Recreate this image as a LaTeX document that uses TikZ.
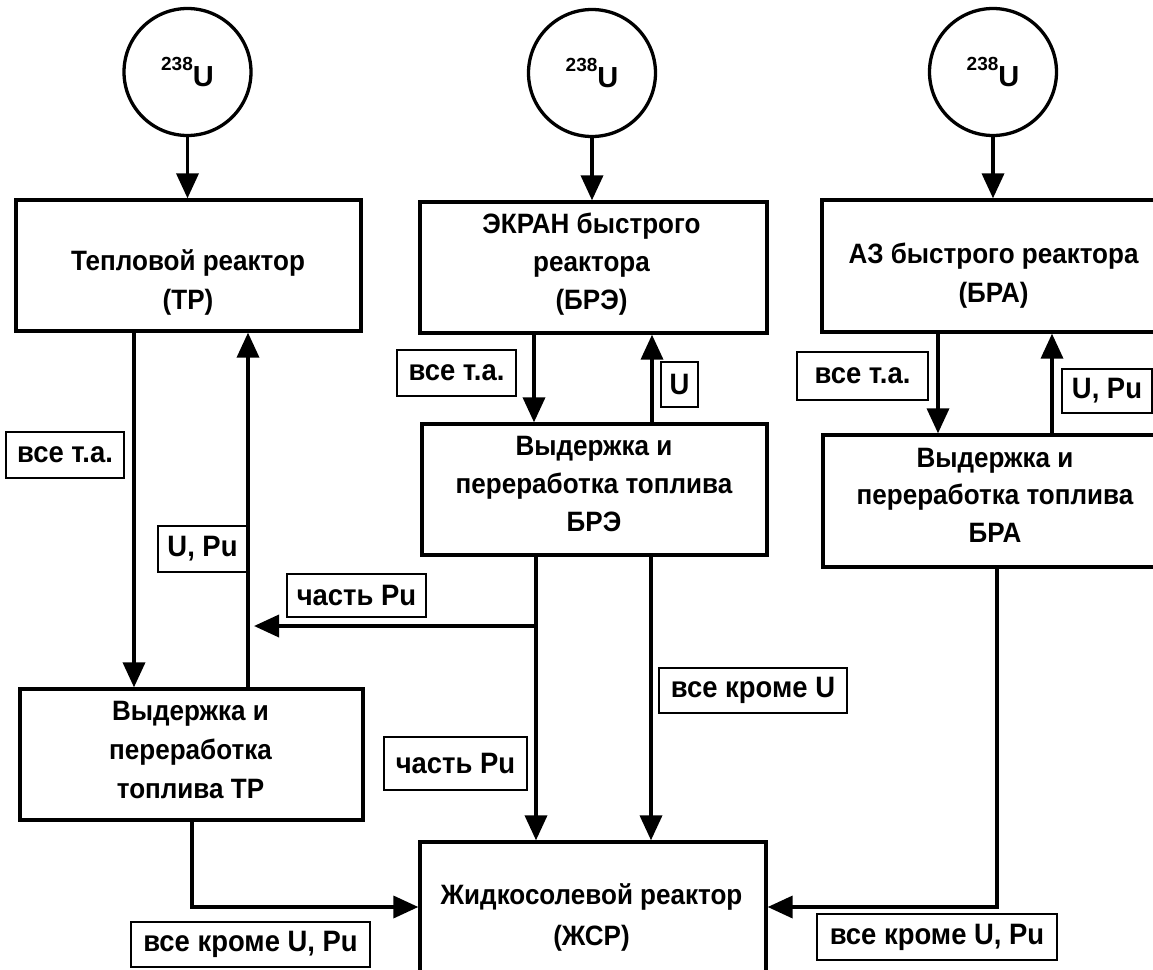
\documentclass[tikz,border=0pt]{standalone}
\usepackage{fontspec}
\setmainfont{Liberation Sans}
\newfontfamily\narrowf{Liberation Sans}[FakeStretch=0.93]
\usetikzlibrary{arrows.meta}
\newcommand{\mlines}[2]{{\narrowf\fontsize{28}{#1}\selectfont\bfseries\begin{tabular}[t]{@{}c@{}}#2\end{tabular}}}
\newcommand{\uiso}{\raisebox{16pt}{\fontsize{19}{20}\selectfont\bfseries 238}{\fontsize{29}{30}\selectfont\bfseries U}}
\begin{document}
\begin{tikzpicture}[x=1pt,y=-1pt,
  box/.style={draw, line width=3.3pt, inner sep=0pt},
  circ/.style={draw, circle, line width=3.3pt, minimum size=127pt, inner sep=0pt},
  lbl/.style={draw, line width=1.2pt, inner sep=0pt, font=\narrowf\fontsize{29.5}{30}\selectfont\bfseries},
  arr/.style={line width=3.6pt, -{Triangle[length=25pt,width=22pt]}},
  txt/.style={anchor=base, inner sep=0pt}]
\useasboundingbox (0,0) rectangle (1153,969);
% circles
\node[circ] (c1) at (187.5,72) {\uiso};
\node[circ] (c2) at (592,73) {\uiso};
\node[circ] (c3) at (993,72) {\uiso};
% boxes
\node[box, minimum width=345pt, minimum height=131pt] (tp) at (188.5,265.5) {};
\node[box, minimum width=347pt, minimum height=131pt] (bre) at (593.5,267.5) {};
\node[box, minimum width=343pt, minimum height=132pt] (bra) at (993.5,266) {};
\node[box, minimum width=345pt, minimum height=131pt] (bre2) at (594.5,489.5) {};
\node[box, minimum width=343pt, minimum height=132pt] (bra2) at (994.5,501) {};
\node[box, minimum width=343pt, minimum height=131pt] (tp2) at (191.5,754.5) {};
\node[box, minimum width=346pt, minimum height=150pt] (msr) at (593,917) {};
% box texts
\node[txt] (tpT) at (188,270) {\mlines{39}{Тепловой реактор\\(ТР)}};
\node[txt] (breT) at (591.5,233) {\mlines{38}{ЭКРАН быстрого\\реактора\\(БРЭ)}};
\node[txt] (braT) at (993.5,263) {\mlines{39}{АЗ быстрого реактора\\(БРА)}};
\node[txt] (bre2T) at (594,455) {\mlines{38}{Выдержка и\\переработка топлива\\БРЭ}};
\node[txt] (bra2T) at (995,467) {\mlines{37.5}{Выдержка и\\переработка топлива\\БРА}};
\node[txt] (tp2T) at (190.5,720) {\mlines{39}{Выдержка и\\переработка\\топлива ТР}};
\node[txt] (msrT) at (591.5,904) {\mlines{41}{Жидкосолевой реактор\\(ЖСР)}};
% connectors
\draw[arr] (c1.south) -- (c1.south |- tp.north);
\draw[arr] (c2.south) -- (c2.south |- bre.north);
\draw[arr] (c3.south) -- (c3.south |- bra.north);
\draw[arr] (tp.south -| 134,0) -- (tp2.north -| 134,0);
\draw[arr] (tp2.north -| 248,0) -- (tp.south -| 248,0);
\draw[arr] (bre.south -| 534,0) -- (bre2.north -| 534,0);
\draw[arr] (bre2.north -| 652,0) -- (bre.south -| 652,0);
\draw[arr] (bra.south -| 938,0) -- (bra2.north -| 938,0);
\draw[arr] (bra2.north -| 1052,0) -- (bra.south -| 1052,0);
\draw[arr] (bre2.south -| 536,0) -- (msr.north -| 536,0);
\coordinate (br) at (536,626);
\coordinate (pu) at (254,626);
\draw[arr] (br) -- (pu);
\draw[arr] (bre2.south -| 651,0) -- (msr.north -| 651,0);
\draw[arr] (tp2.south -| 192,0) |- (msr.west |- 0,907);
\draw[arr] (bra2.south -| 997,0) |- (msr.east |- 0,907);
% labels
\node[lbl, minimum width=118pt, minimum height=46pt] (l1) at (65,455) {все т.а.};
\node[lbl, minimum width=89pt, minimum height=46pt] (l2) at (202.5,549) {U, Pu};
\node[lbl, minimum width=139pt, minimum height=43pt] (l3) at (356.5,595.5) {часть Pu};
\node[lbl, minimum width=119pt, minimum height=46pt] (l4) at (456.5,373) {все т.а.};
\node[lbl, minimum width=37pt, minimum height=45pt] (l5) at (679.5,384.5) {U};
\node[lbl, minimum width=131pt, minimum height=48pt] (l6) at (862.5,376) {все т.а.};
\node[lbl, minimum width=90pt, minimum height=44pt] (l7) at (1107,391) {U, Pu};
\node[lbl, minimum width=188pt, minimum height=45pt] (l8) at (753,690.5) {все кроме U};
\node[lbl, minimum width=143pt, minimum height=53pt] (l9) at (455.5,763.5) {часть Pu};
\node[lbl, minimum width=239pt, minimum height=45pt] (l10) at (250.5,944.5) {все кроме U, Pu};
\node[lbl, minimum width=240pt, minimum height=46pt] (l11) at (937,937) {все кроме U, Pu};
\end{tikzpicture}
\end{document}
